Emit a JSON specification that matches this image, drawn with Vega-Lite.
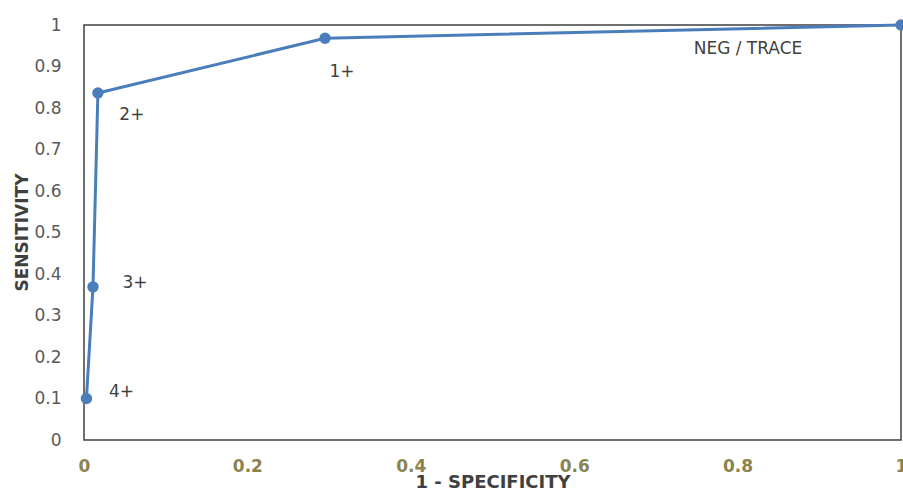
{
  "$schema": "https://vega.github.io/schema/vega-lite/v6.json",
  "autosize": "none",
  "width": 817,
  "height": 415,
  "padding": {"left": 84, "top": 25, "right": 2, "bottom": 50},
  "background": "white",
  "config": {
    "view": {"stroke": "#404040", "strokeWidth": 1.5},
    "font": "DejaVu Sans"
  },
  "data": {
    "values": [
      {"fpr": 0.003, "sens": 0.1, "label": "4+"},
      {"fpr": 0.011, "sens": 0.369, "label": "3+"},
      {"fpr": 0.017, "sens": 0.836, "label": "2+"},
      {"fpr": 0.295, "sens": 0.968, "label": "1+"},
      {"fpr": 1.0, "sens": 1.0, "label": "NEG / TRACE"}
    ]
  },
  "encoding": {
    "x": {
      "field": "fpr", "type": "quantitative",
      "scale": {"domain": [0, 1], "nice": false, "zero": true},
      "axis": {
        "title": "1 - SPECIFICITY", "values": [0, 0.2, 0.4, 0.6, 0.8, 1], "format": "~g",
        "grid": false, "domain": false, "ticks": false,
        "labelColor": "#8a8450", "labelFont": "DejaVu Sans", "labelFontWeight": "bold", "labelFontSize": 17,
        "labelPadding": 18, "labelFlush": false,
        "titleFont": "DejaVu Sans", "titleFontWeight": "bold", "titleFontSize": 18, "titleColor": "#404040",
        "titleBaseline": "middle", "titleY": 42
      }
    },
    "y": {
      "field": "sens", "type": "quantitative",
      "scale": {"domain": [0, 1], "nice": false},
      "axis": {
        "title": "SENSITIVITY", "values": [0, 0.1, 0.2, 0.3, 0.4, 0.5, 0.6, 0.7, 0.8, 0.9, 1], "format": "~g",
        "grid": false, "domain": false, "ticks": false,
        "labelColor": "#595959", "labelFont": "DejaVu Sans", "labelFontSize": 17, "labelPadding": 23,
        "titleFont": "DejaVu Sans", "titleFontWeight": "bold", "titleFontSize": 17, "titleColor": "#404040",
        "titleAngle": -90, "titleX": -62, "titleY": 207, "titleAlign": "center", "titleBaseline": "middle"
      }
    }
  },
  "layer": [
    {"mark": {"type": "line", "color": "#4a7ebb", "strokeWidth": 3}},
    {"mark": {"type": "point", "filled": true, "color": "#4a7ebb", "size": 130, "opacity": 1}},
    {
      "transform": [{"filter": "datum.label == '4+'"}],
      "mark": {"type": "text", "dx": 35, "dy": -7, "fontSize": 17, "color": "#404040", "font": "DejaVu Sans"},
      "encoding": {"text": {"field": "label"}}
    },
    {
      "transform": [{"filter": "datum.label == '3+'"}],
      "mark": {"type": "text", "dx": 42, "dy": -4, "fontSize": 17, "color": "#404040", "font": "DejaVu Sans"},
      "encoding": {"text": {"field": "label"}}
    },
    {
      "transform": [{"filter": "datum.label == '2+'"}],
      "mark": {"type": "text", "dx": 34, "dy": 22, "fontSize": 17, "color": "#404040", "font": "DejaVu Sans"},
      "encoding": {"text": {"field": "label"}}
    },
    {
      "transform": [{"filter": "datum.label == '1+'"}],
      "mark": {"type": "text", "dx": 17, "dy": 34, "fontSize": 17, "color": "#404040", "font": "DejaVu Sans"},
      "encoding": {"text": {"field": "label"}}
    },
    {
      "transform": [{"filter": "datum.label == 'NEG / TRACE'"}],
      "mark": {"type": "text", "dx": -153, "dy": 24, "fontSize": 17, "color": "#404040", "font": "DejaVu Sans"},
      "encoding": {"text": {"field": "label"}}
    }
  ]
}
